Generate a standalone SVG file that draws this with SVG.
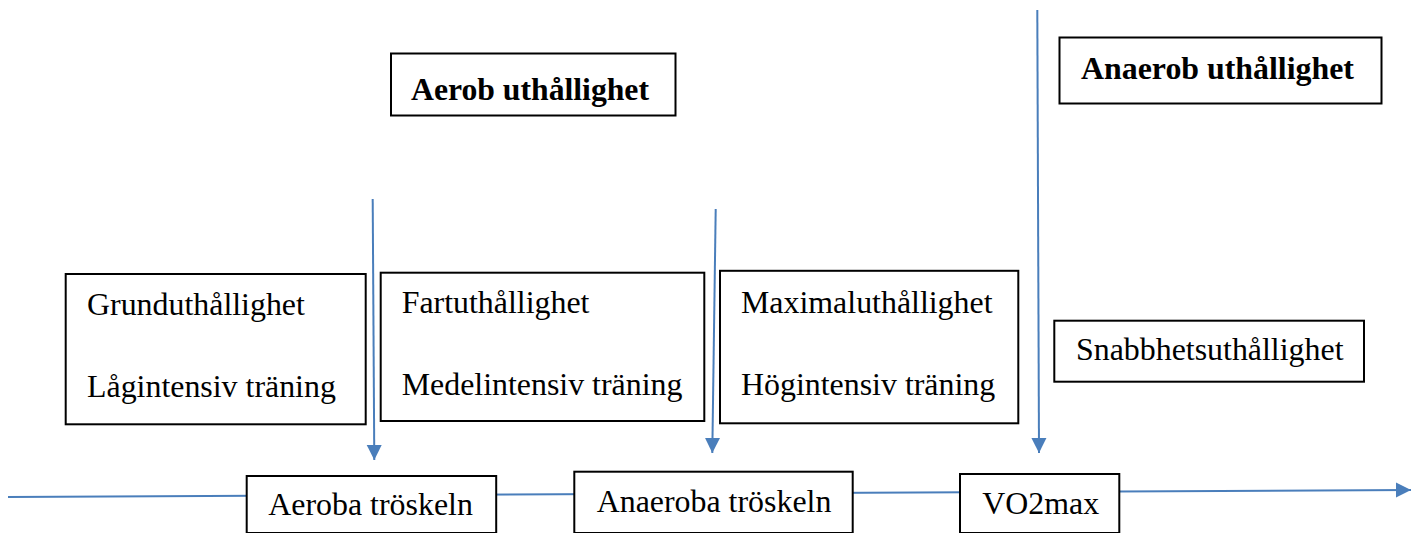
<svg xmlns="http://www.w3.org/2000/svg" width="1421" height="533" viewBox="0 0 1421 533">
<style>
.box{fill:#fff;stroke:#000;stroke-width:2}
.t{font-family:"Liberation Serif","Times New Roman",serif;font-size:31.9px;fill:#000}
.b{font-weight:bold}
.c{fill:none;stroke:#4a7ebb;stroke-width:2}
</style>
<defs>
<marker id="ah" markerUnits="userSpaceOnUse" markerWidth="16" markerHeight="16" viewBox="0 0 16 16" refX="15" refY="8" orient="auto">
<path d="M0,0.5 L15,8 L0,15.5 Z" fill="#4a7ebb"/>
</marker>
</defs>
<g id="connectors">
<line class="c" x1="8" y1="497" x2="1411" y2="490" marker-end="url(#ah)"/>
<line class="c" x1="372.7" y1="199" x2="374.3" y2="460" marker-end="url(#ah)"/>
<line class="c" x1="715.7" y1="209" x2="712.3" y2="453" marker-end="url(#ah)"/>
<line class="c" x1="1037.3" y1="10" x2="1039" y2="453" marker-end="url(#ah)"/>
</g>
<g id="aerob">
<rect class="box" x="391" y="53.5" width="284.5" height="62"/>
<text class="t b" x="411" y="100" textLength="238" lengthAdjust="spacingAndGlyphs">Aerob uthållighet</text>
</g>
<g id="anaerob">
<rect class="box" x="1059.5" y="37.5" width="322" height="66"/>
<text class="t b" x="1081" y="79" textLength="273" lengthAdjust="spacingAndGlyphs">Anaerob uthållighet</text>
</g>
<g id="grund">
<rect class="box" x="65.7" y="274" width="300" height="150.3"/>
<text class="t" x="87" y="315">Grunduthållighet</text>
<text class="t" x="87" y="396.7">Lågintensiv träning</text>
</g>
<g id="fart">
<rect class="box" x="380.7" y="272.7" width="323.6" height="148.3"/>
<text class="t" x="401.7" y="313.3">Fartuthållighet</text>
<text class="t" x="401.7" y="395">Medelintensiv träning</text>
</g>
<g id="maximal">
<rect class="box" x="720" y="270.8" width="298.3" height="152.5"/>
<text class="t" x="741" y="313">Maximaluthållighet</text>
<text class="t" x="741" y="395">Högintensiv träning</text>
</g>
<g id="snabb">
<rect class="box" x="1054.3" y="320.7" width="309.7" height="61"/>
<text class="t" x="1076" y="360">Snabbhetsuthållighet</text>
</g>
<g id="aeroba">
<rect class="box" x="246.7" y="476" width="249.5" height="57"/>
<text class="t" x="268.3" y="515">Aeroba tröskeln</text>
</g>
<g id="anaeroba">
<rect class="box" x="574.3" y="471.7" width="278.4" height="61.3"/>
<text class="t" x="596.7" y="511.7">Anaeroba tröskeln</text>
</g>
<g id="vo2max">
<rect class="box" x="960" y="474" width="159.3" height="59"/>
<text class="t" x="982.3" y="514">VO2max</text>
</g>
</svg>
